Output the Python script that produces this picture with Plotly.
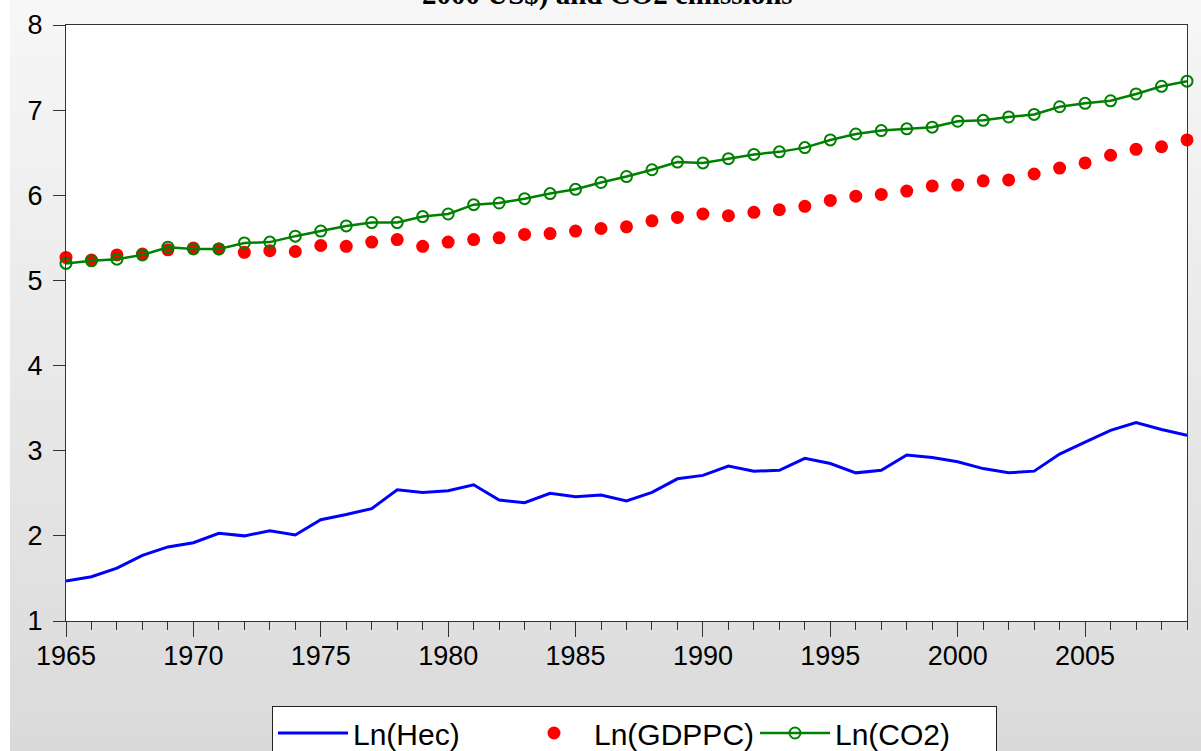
import plotly.graph_objects as go

years = list(range(1965, 2010))

ln_hec = [1.47, 1.52, 1.62, 1.77, 1.87, 1.92, 2.03, 2.00, 2.06, 2.01,
          2.19, 2.25, 2.32, 2.54, 2.51, 2.53, 2.60, 2.42, 2.39, 2.50,
          2.46, 2.48, 2.41, 2.51, 2.67, 2.71, 2.82, 2.76, 2.77, 2.91,
          2.85, 2.74, 2.77, 2.95, 2.92, 2.87, 2.79, 2.74, 2.76, 2.96,
          3.10, 3.24, 3.33, 3.25, 3.18]

ln_gdppc = [5.27, 5.24, 5.30, 5.31, 5.36, 5.38, 5.37, 5.33, 5.35, 5.34,
            5.41, 5.40, 5.45, 5.48, 5.40, 5.45, 5.48, 5.50, 5.54, 5.55,
            5.58, 5.61, 5.63, 5.70, 5.74, 5.78, 5.76, 5.80, 5.83, 5.87,
            5.94, 5.99, 6.01, 6.05, 6.11, 6.12, 6.17, 6.18, 6.25, 6.32,
            6.38, 6.47, 6.54, 6.57, 6.65]

ln_co2 = [5.20, 5.23, 5.25, 5.30, 5.39, 5.37, 5.37, 5.44, 5.45, 5.52,
          5.58, 5.64, 5.68, 5.68, 5.75, 5.78, 5.89, 5.91, 5.96, 6.02,
          6.07, 6.15, 6.22, 6.30, 6.39, 6.38, 6.43, 6.48, 6.51, 6.56,
          6.65, 6.72, 6.76, 6.78, 6.80, 6.87, 6.88, 6.92, 6.95, 7.04,
          7.08, 7.11, 7.19, 7.28, 7.34]

y_ticks = [1, 2, 3, 4, 5, 6, 7, 8]
x_ticks = [1965, 1970, 1975, 1980, 1985, 1990, 1995, 2000, 2005]
title_text = "2000 US$) and CO2 emissions"

W, H = 1201, 751
L, R, T, B = 66, 14, 25, 130
pw, ph = W - L - R, H - T - B

def px_x(p):
    return (p - L) / pw

def px_y(p):
    return (H - B - p) / ph

fig = go.Figure()

fig.add_trace(go.Scatter(x=years, y=ln_hec, mode="lines", name="Ln(Hec)",
                         line=dict(color="#0000ff", width=3), cliponaxis=False))
fig.add_trace(go.Scatter(x=years, y=ln_gdppc, mode="markers", name="Ln(GDPPC)",
                         marker=dict(color="#ff0000", size=13, symbol="circle"),
                         cliponaxis=False))
fig.add_trace(go.Scatter(x=years, y=ln_co2, mode="lines+markers", name="Ln(CO2)",
                         line=dict(color="#008000", width=2.5),
                         marker=dict(symbol="circle-open", size=11, color="#008000",
                                     line=dict(width=2, color="#008000")),
                         cliponaxis=False))

# background gradient bands (style only)
shapes = []
nb = 40
c0, c1 = 247, 218
for i in range(nb):
    y0p = i * H / nb
    y1p = (i + 1) * H / nb + 1
    c = round(c0 + (c1 - c0) * (i + 0.5) / nb)
    col = f"rgb({c},{c},{c})"
    shapes.append(dict(type="rect", xref="paper", yref="paper", layer="below",
                       x0=px_x(10), x1=px_x(W + 5), y0=px_y(y1p), y1=px_y(y0p),
                       fillcolor=col, line=dict(width=0)))
shapes.append(dict(type="rect", xref="paper", yref="paper", layer="below",
                   x0=0, x1=1, y0=0, y1=1, fillcolor="white", line=dict(width=0)))

fig.update_layout(
    width=W, height=H,
    margin=dict(l=L, r=R, t=T, b=B, pad=0, autoexpand=False),
    paper_bgcolor="white",
    plot_bgcolor="white",
    shapes=shapes,
    font=dict(family="Liberation Sans, Arial, sans-serif", color="black"),
    showlegend=True,
    legend=dict(orientation="h", x=px_x(272), xanchor="left",
                y=px_y(706), yanchor="top",
                bgcolor="white", bordercolor="#222222", borderwidth=1,
                font=dict(size=30, family="Liberation Sans, Arial, sans-serif"),
                itemwidth=70, entrywidth=156, entrywidthmode="pixels",
                tracegroupgap=0),
    annotations=[dict(text="<b>" + title_text + "</b>", xref="paper", yref="paper",
                      x=px_x(607), y=px_y(13), xanchor="center", yanchor="bottom",
                      showarrow=False,
                      font=dict(family="Liberation Serif, Times New Roman, serif",
                                size=29, color="black"))],
)

fig.update_xaxes(range=[1965, 2009], tickvals=x_ticks, ticks="outside", ticklen=15,
                 tickcolor="#333333", tickwidth=1, ticklabelstandoff=-4,
                 minor=dict(dtick=1, ticks="outside", ticklen=8, tickcolor="#333333",
                            tickwidth=1, showgrid=False),
                 showline=True, mirror=True, linecolor="#333333", linewidth=1,
                 showgrid=False, zeroline=False,
                 tickfont=dict(size=27, color="black"))
fig.update_yaxes(range=[1, 8], tickvals=y_ticks, ticks="outside", ticklen=12,
                 tickcolor="#333333", tickwidth=1, ticklabelstandoff=5,
                 showline=True, mirror=True, linecolor="#333333", linewidth=1,
                 showgrid=False, zeroline=False,
                 tickfont=dict(size=27, color="black"))

fig.write_html("out.html", config={"displayModeBar": False},
               post_script="document.body.style.margin='0';document.body.style.overflow='hidden';")
